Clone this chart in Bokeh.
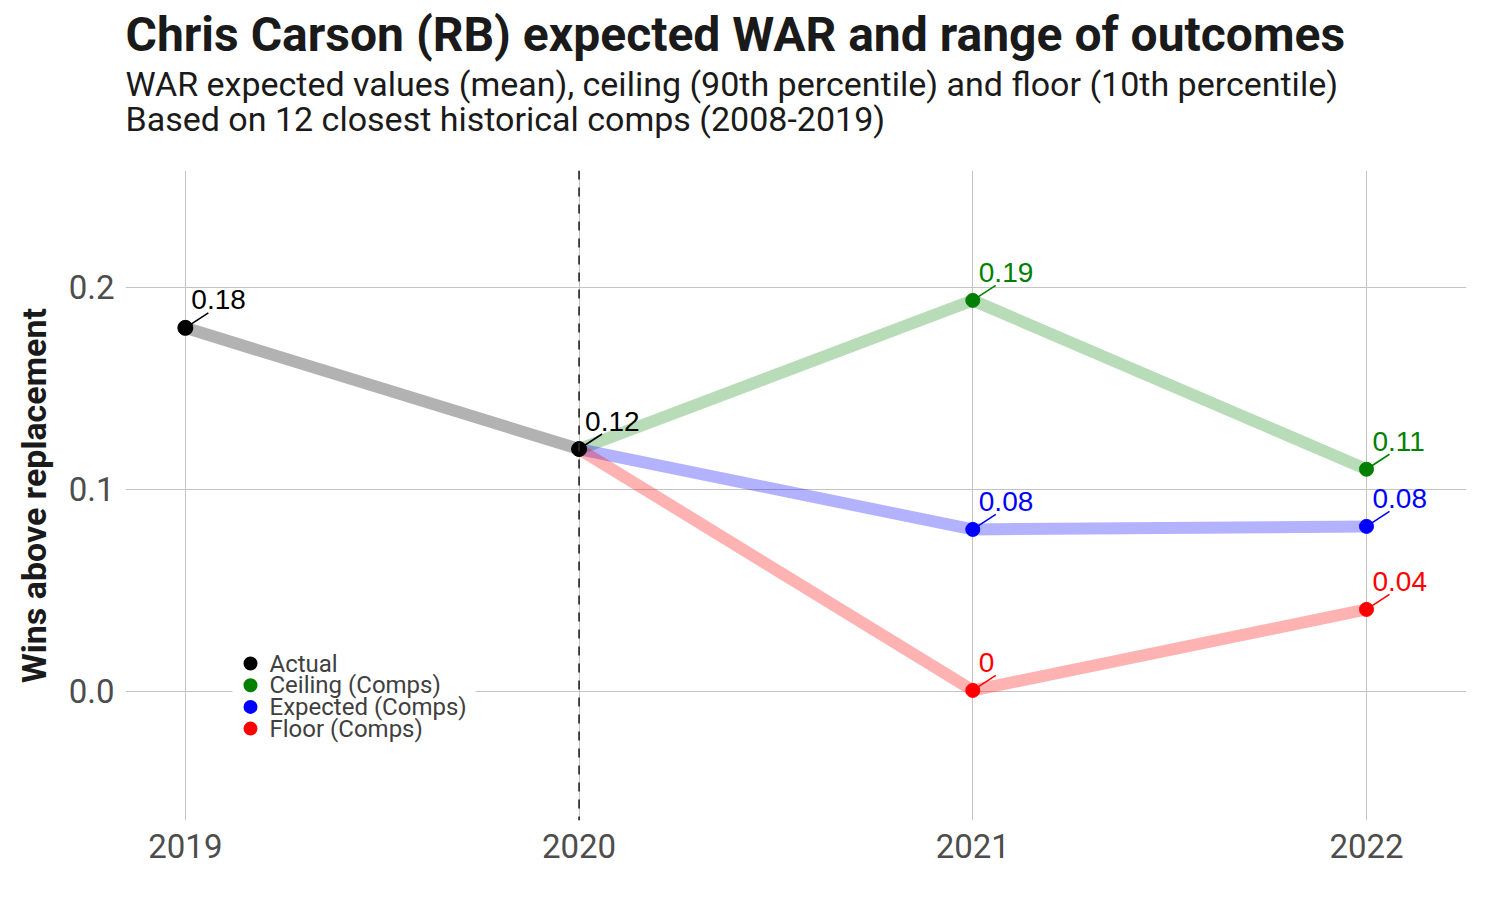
from bokeh.plotting import figure
from bokeh.models import FixedTicker, Span, BoxAnnotation, Label, NumeralTickFormatter, Title
from bokeh.core.properties import value
from bokeh.embed import file_html
from bokeh.resources import INLINE

# ---------------- data ----------------
actual_years = [2019, 2020]
actual_war = [0.18, 0.12]
comp_years = [2020, 2021, 2022]
ceiling_war = [0.12, 0.1936, 0.110]
expected_war = [0.12, 0.0802, 0.0817]
floor_war = [0.12, 0.0005, 0.0406]
series_labels = ["Actual", "Ceiling (Comps)", "Expected (Comps)", "Floor (Comps)"]
series_colors = ["black", "green", "blue", "red"]
x_ticks = [2019, 2020, 2021, 2022]
y_ticks = [0.0, 0.1, 0.2]
projection_start = 2020

title_text = "Chris Carson (RB) expected WAR and range of outcomes"
subtitle_1 = "WAR expected values (mean), ceiling (90th percentile) and floor (10th percentile)"
subtitle_2 = "Based on 12 closest historical comps (2008-2019)"
y_label = "Wins above replacement"


def fmt(v):
    s = f"{round(v, 2):.2f}".rstrip("0").rstrip(".")
    return s if s not in ("", "-0") else "0"


# ---------------- layout ----------------
W, H = 1490, 890
LEFT, RIGHT, TOP, BOTTOM = 125, 24, 170, 70
FRAME_W = W - LEFT - RIGHT
FRAME_H = H - TOP - BOTTOM
X0, X1 = 2018.848, 2022.254
Y0, Y1 = -0.0639, 0.2579

p = figure(width=W, height=H, output_backend="svg", toolbar_location=None,
           x_range=(X0, X1), y_range=(Y0, Y1),
           min_border_left=LEFT, min_border_right=RIGHT,
           min_border_top=TOP, min_border_bottom=BOTTOM,
           background_fill_color="white", border_fill_color="white")
p.outline_line_color = None

ROBOTO = "Roboto"

# titles: first added sits closest to the plot frame
p.add_layout(Title(text=" ", text_font_size="10px", standoff=18, align="left"), "above")
p.add_layout(Title(text=subtitle_1 + "\n" + subtitle_2, text_font=ROBOTO,
                   text_font_size="34px", text_font_style="normal",
                   text_line_height=0.885, text_color="#1a1a1a",
                   align="left", offset=0, standoff=0), "above")
p.add_layout(Title(text=title_text, text_font=ROBOTO, text_font_size="48px",
                   text_font_style="bold", text_color="#1a1a1a",
                   align="left", offset=0, standoff=0), "above")

# axes & grid
for ax in (p.xaxis, p.yaxis):
    ax.axis_line_color = None
    ax.major_tick_line_color = None
    ax.minor_tick_line_color = None
    ax.major_label_text_font = ROBOTO
    ax.major_label_text_font_size = "33px"
    ax.major_label_text_color = "#4d4d4d"
p.xaxis.ticker = FixedTicker(ticks=x_ticks)
p.yaxis.ticker = FixedTicker(ticks=y_ticks)
p.yaxis.formatter = NumeralTickFormatter(format="0.0")
p.xaxis.major_label_standoff = 7
p.yaxis.major_label_standoff = 5
p.yaxis.axis_label = y_label
p.yaxis.axis_label_text_font = ROBOTO
p.yaxis.axis_label_text_font_size = "34px"
p.yaxis.axis_label_text_font_style = "bold"
p.yaxis.axis_label_text_color = "#1a1a1a"
p.yaxis.axis_label_standoff = 12

p.xgrid.ticker = FixedTicker(ticks=x_ticks)
p.ygrid.ticker = FixedTicker(ticks=y_ticks)
for g in (p.xgrid, p.ygrid):
    g.grid_line_color = "#c4c4c4"
    g.grid_line_width = 1
    g.minor_grid_line_color = None

p.add_layout(Span(location=projection_start, dimension="height",
                  line_color="#2b2b2b", line_dash="9 8", line_width=1.7))

# lines
LW = 12
p.line(actual_years, actual_war, line_width=LW, line_color="black", line_alpha=0.3)
p.line(comp_years, ceiling_war, line_width=LW, line_color="green", line_alpha=0.28)
p.line(comp_years, expected_war, line_width=LW, line_color="blue", line_alpha=0.3)
p.line(comp_years, floor_war, line_width=LW, line_color="red", line_alpha=0.3)

# points + labels
series = [
    (actual_years, actual_war, series_colors[0]),
    (comp_years[1:], ceiling_war[1:], series_colors[1]),
    (comp_years[1:], expected_war[1:], series_colors[2]),
    (comp_years[1:], floor_war[1:], series_colors[3]),
]
dx = 23 * (X1 - X0) / FRAME_W
dy = 15 * (Y1 - Y0) / FRAME_H
for xs, ys, col in series:
    p.segment(x0=xs, y0=ys, x1=[x + dx for x in xs], y1=[y + dy for y in ys],
              line_color=col, line_width=1.6)
for xs, ys, col in series:
    p.scatter(xs, ys, size=15 if col == "black" else 14, fill_color=col, line_color=col)
for xs, ys, col in series:
    p.text(xs, ys, text=[fmt(v) for v in ys], x_offset=6, y_offset=-28,
           text_baseline="middle", text_align="left",
           text_font=value("Liberation Sans"), text_font_size="28px", text_color=col)

# manual legend (screen units relative to frame)
p.add_layout(BoxAnnotation(left=107, right=350, bottom=70, top=178,
                           left_units="screen", right_units="screen",
                           bottom_units="screen", top_units="screen",
                           fill_color="white", fill_alpha=1, line_color=None))
row_y = [157, 135.3, 113.6, 91.9]
for lab, col, yy in zip(series_labels, series_colors, row_y):
    p.add_layout(BoxAnnotation(left=118, right=132, bottom=yy - 7, top=yy + 7,
                               left_units="screen", right_units="screen",
                               bottom_units="screen", top_units="screen",
                               fill_color=col, fill_alpha=1, line_color=None,
                               border_radius=7))
    p.add_layout(Label(x=144, y=yy, x_units="screen", y_units="screen", text=lab,
                       text_font=ROBOTO, text_font_size="24px", text_color="#404040",
                       text_baseline="middle", text_align="left"))

open("out.html", "w").write(file_html(p, INLINE))
